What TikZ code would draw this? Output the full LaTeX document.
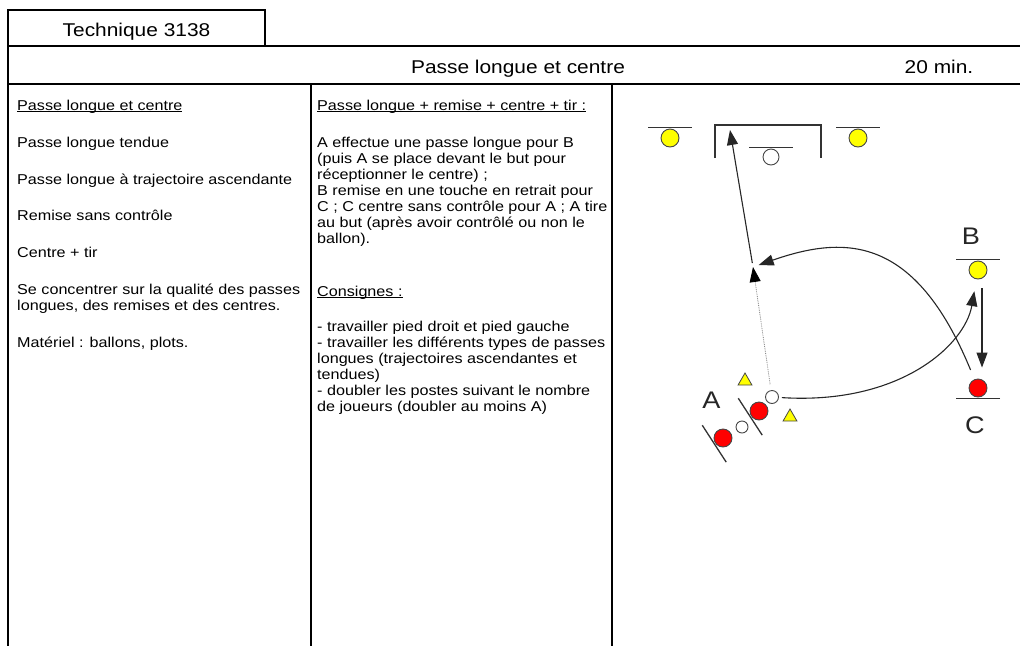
\documentclass[tikz,border=0pt]{standalone}
\usepackage{fontspec}
\setmainfont{Liberation Sans}[FakeStretch=1.13]
\usetikzlibrary{arrows.meta,shapes.geometric}
\usepackage{xcolor}
\definecolor{jauneplot}{RGB}{255,255,0}
\definecolor{rougejoueur}{RGB}{255,0,0}
\definecolor{contour}{RGB}{70,70,70}

\begin{document}
\begin{tikzpicture}[x=1pt, y=-1pt, font=\fontsize{14.3}{16}\selectfont,
                    >={Triangle[length=15pt,width=11pt]},
                    cadre/.style={line width=2pt},
                    ligne/.style={anchor=base west, inner sep=0pt},
                    titre/.style={anchor=base, inner sep=0pt, font=\fontsize{18.5}{20}\selectfont},
                    joueur/.style={circle, draw=contour, line width=0.9pt, inner sep=0pt, minimum size=18pt},
                    balle/.style={circle, draw=contour, fill=white, line width=0.9pt, inner sep=0pt, minimum size=13pt},
                    plot/.style={regular polygon, regular polygon sides=3, draw=contour, fill=jauneplot,
                                 line width=0.8pt, inner sep=0pt, minimum size=16pt},
                    lettre/.style={anchor=base, inner sep=0pt, text=black!85, font=\fontsize{24}{26}\selectfont},
                    passe/.style={->, line width=1.1pt, black!85},
                    dos/.style={line width=1.3pt, black!80}]

    \useasboundingbox (0,0) rectangle (1020,646);

    % ==========================================================
    % cadre de la fiche
    % ==========================================================
    \draw[cadre] (8,46) -- (8,10) -- (265,10) -- (265,46);
    \draw[cadre] (8,46) -- (1020,46);
    \draw[cadre] (8,84) -- (1020,84);
    \draw[cadre] (8,46) -- (8,646);
    \draw[cadre] (311,84) -- (311,646);
    \draw[cadre] (612,84) -- (612,646);

    \node[titre] (technique) at (136.5,36) {Technique 3138};
    \node[titre] (intitule) at (518,73) {Passe longue et centre};
    \node[titre] (duree) at (939,73) {20 min.};

    % colonne de gauche
    \foreach \n/\y/\t in {1/110/{\underline{\smash{Passe longue et centre}}},
                          2/147/{Passe longue tendue},
                          3/184/{Passe longue à trajectoire ascendante},
                          4/220/{Remise sans contrôle},
                          5/257/{Centre + tir},
                          6/294/{Se concentrer sur la qualité des passes},
                          7/310/{longues, des remises et des centres.},
                          8/347/{Matériel : ballons, plots.}} {
        \node[ligne] (gauche\n) at (17,\y) {\t};
    }

    % colonne du milieu
    \foreach \n/\y/\t in {1/110/{\underline{\smash{Passe longue + remise + centre + tir :}}},
                          2/147/{A effectue une passe longue pour B},
                          3/163/{(puis A se place devant le but pour},
                          4/179/{réceptionner le centre) ;},
                          5/195/{B remise en une touche en retrait pour},
                          6/211/{C ; C centre sans contrôle pour A ; A tire},
                          7/227/{au but (après avoir contrôlé ou non le},
                          8/243/{ballon).},
                          9/296/{\underline{\smash{Consignes :}}},
                          10/331/{- travailler pied droit et pied gauche},
                          11/347/{- travailler les différents types de passes},
                          12/363/{longues (trajectoires ascendantes et},
                          13/379/{tendues)},
                          14/395/{- doubler les postes suivant le nombre},
                          15/411/{de joueurs (doubler au moins A)}} {
        \node[ligne] (milieu\n) at (317,\y) {\t};
    }

    % ==========================================================
    % schema
    % ==========================================================

    % but
    \draw[line width=1.5pt, black!80] (715,158) -- (715,125) -- (821,125) -- (821,158);

    % joueurs, ballons et plots
    \node[joueur, fill=jauneplot] (jauneG) at (670,138) {};
    \node[joueur, fill=jauneplot] (jauneD) at (858,138) {};
    \node[balle, minimum size=16pt] (gardien) at (771,157) {};
    \node[joueur, fill=jauneplot] (joueurB) at (978,270) {};
    \node[joueur, fill=rougejoueur] (joueurC) at (978,388) {};
    \node[joueur, fill=rougejoueur] (joueurA) at (759,411) {};
    \node[joueur, fill=rougejoueur] (joueurA2) at (723,438) {};
    \node[balle] (ballon) at (772,397) {};
    \node[balle, minimum size=12pt] (ballon2) at (742,427) {};
    \node[plot] (plot1) at (745,381) {};
    \node[plot] (plot2) at (790,417) {};

    % orientation des joueurs
    \foreach \n/\a in {jauneG/90, jauneD/90, gardien/90, joueurB/90,
                       joueurC/270, joueurA/213, joueurA2/213} {
        \draw[dos] (\n.\a) ++(\a:1pt) ++({\a+90}:22pt) -- ++({\a-90}:44pt);
    }

    \node[lettre] (lettreA) at (711.5,408) {A};
    \node[lettre] (lettreB) at (971,244) {B};
    \node[lettre] (lettreC) at (975,433) {C};

    \coordinate (recep) at (753,267);
    \coordinate (cible) at (730,130);

    % deplacement de A
    \draw[densely dotted, gray, line width=0.8pt, shorten <=6pt,
          -{Triangle[length=15pt,width=11pt,color=black]}] (ballon) -- (recep);

    % passe longue A vers B
    \draw[passe, shorten <=3pt, shorten >=12pt] (ballon) .. controls (900,405) and (965,345) .. (joueurB);

    % remise B vers C
    \draw[passe, shorten <=9pt, shorten >=11pt] ([xshift=4pt]joueurB.south) -- ([xshift=4pt]joueurC.north);

    % centre C vers A
    \draw[passe, shorten <=10pt, shorten >=6pt] (joueurC) .. controls (915,235) and (845,235) .. (recep);

    % tir
    \draw[passe, shorten <=4pt] (recep) -- (cible);

\end{tikzpicture}
\end{document}
